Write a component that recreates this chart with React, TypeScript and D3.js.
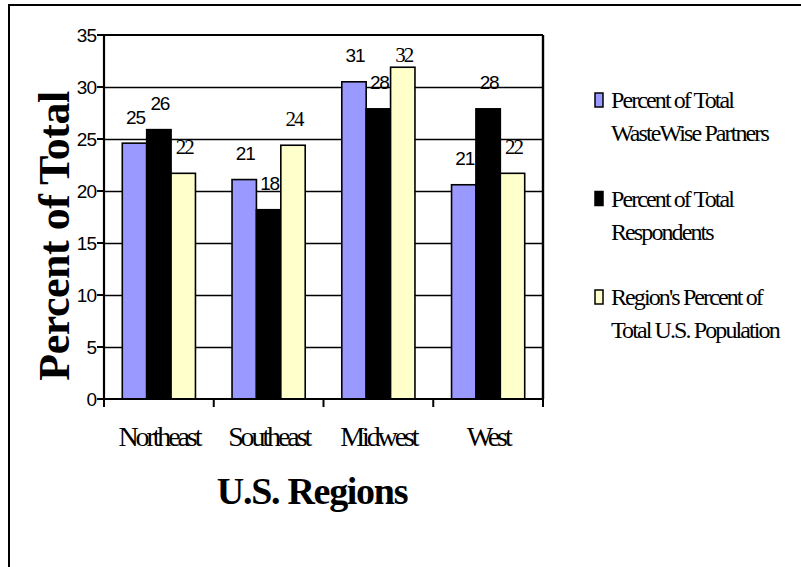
import React from "react";
import * as d3 from "d3";

const regions = ["Northeast", "Southeast", "Midwest", "West"];
const seriesNames = ["partners", "respondents", "population"];
const partnersPct = [24.6, 21.1, 30.5, 20.6];
const respondentsPct = [25.9, 18.2, 27.9, 27.9];
const populationPct = [21.7, 24.4, 31.9, 21.7];
const yTicks = [0, 5, 10, 15, 20, 25, 30, 35];
const legendLines = [
  ["Percent of Total", "WasteWise Partners"],
  ["Percent of Total", "Respondents"],
  ["Region's Percent of", "Total U.S. Population"],
];

const seriesValues = [partnersPct, respondentsPct, populationPct];
const fills = ["#9999FF", "#000000", "#FFFFCC"];
const labelFonts = [
  "'Liberation Sans', Arial, sans-serif",
  "'Liberation Sans', Arial, sans-serif",
  "'Liberation Serif', 'Times New Roman', serif",
];

const W = 801;
const H = 567;
const plot = { left: 104, right: 543, top: 35, bottom: 399 };
const serif = "'Liberation Serif', 'Times New Roman', serif";
const sans = "'Liberation Sans', Arial, sans-serif";

export default function App() {
  const y = d3.scaleLinear().domain([0, 35]).range([plot.bottom, plot.top]);
  const x = d3.scaleBand<string>().domain(regions).range([plot.left, plot.right]).paddingInner(0);
  const xs = d3
    .scaleBand<string>()
    .domain(seriesNames)
    .range([0, x.bandwidth()])
    .paddingInner(0)
    .paddingOuter(0.75);

  // value labels sit above their bar but never rise past the plot frame
  const labelBaseline = (v: number) => Math.max(y(v) - 19.5, plot.top + 27);

  return (
    <svg
      width={W}
      height={H}
      style={{ position: "absolute", left: 0, top: 0, background: "#fff" }}
    >
      <rect x={9} y={5} width={W} height={H} fill="#fff" stroke="#000" strokeWidth={2} />

      {/* gridlines */}
      {yTicks
        .filter((t) => t > 0 && t < 35)
        .map((t) => (
          <line
            key={t}
            x1={plot.left}
            x2={plot.right}
            y1={Math.round(y(t)) + 0.5}
            y2={Math.round(y(t)) + 0.5}
            stroke="#000"
            strokeWidth={1.3}
          />
        ))}

      {/* bars */}
      {regions.map((r, i) => (
        <g key={r}>
          {seriesNames.map((s, j) => {
            const v = seriesValues[j][i];
            const bx = (x(r) ?? 0) + (xs(s) ?? 0);
            return (
              <rect
                key={s}
                x={bx}
                y={y(v)}
                width={xs.bandwidth()}
                height={y(0) - y(v)}
                fill={fills[j]}
                stroke="#000"
                strokeWidth={1.6}
              />
            );
          })}
        </g>
      ))}

      {/* plot frame */}
      <line x1={plot.left} x2={plot.right} y1={plot.top} y2={plot.top} stroke="#000" strokeWidth={2} />
      <line x1={plot.right} x2={plot.right} y1={plot.top} y2={plot.bottom} stroke="#000" strokeWidth={2.4} />
      <line x1={plot.left} x2={plot.left} y1={plot.top} y2={plot.bottom + 1} stroke="#000" strokeWidth={2.2} />
      <line x1={plot.left - 1} x2={plot.right + 1} y1={plot.bottom} y2={plot.bottom} stroke="#000" strokeWidth={2.2} />

      {/* y ticks */}
      {yTicks.map((t) => (
        <g key={t}>
          <line x1={plot.left - 7} x2={plot.left} y1={y(t)} y2={y(t)} stroke="#000" strokeWidth={2} />
          <text
            x={96}
            y={y(t)}
            dy="0.36em"
            textAnchor="end"
            fontFamily={sans}
            fontSize={19}
            letterSpacing={-1}
          >
            {t}
          </text>
        </g>
      ))}

      {/* x ticks */}
      {[...regions.map((r) => x(r) ?? 0), plot.right].map((px, i) => (
        <line key={i} x1={px} x2={px} y1={plot.bottom} y2={plot.bottom + 8} stroke="#000" strokeWidth={2} />
      ))}
      {regions.map((r) => (
        <text
          key={r}
          x={(x(r) ?? 0) + x.bandwidth() / 2}
          y={446}
          textAnchor="middle"
          fontFamily={serif}
          fontSize={28}
          letterSpacing={-3.1}
        >
          {r}
        </text>
      ))}

      {/* value labels */}
      {regions.map((r, i) =>
        seriesNames.map((s, j) => {
          const v = seriesValues[j][i];
          const cx = (x(r) ?? 0) + (xs(s) ?? 0) + xs.bandwidth() / 2 + 1;
          return (
            <text
              key={r + s}
              x={cx}
              y={labelBaseline(v)}
              textAnchor="middle"
              fontFamily={labelFonts[j]}
              fontSize={j === 2 ? 21 : 19}
              letterSpacing={j === 2 ? -2 : -1.2}
            >
              {Math.round(v)}
            </text>
          );
        })
      )}

      {/* axis titles */}
      <text
        transform="translate(69,236) rotate(-90)"
        textAnchor="middle"
        fontFamily={serif}
        fontWeight="bold"
        fontSize={44}
        letterSpacing={-0.5}
      >
        Percent of Total
      </text>
      <text
        x={312}
        y={504}
        textAnchor="middle"
        fontFamily={serif}
        fontWeight="bold"
        fontSize={38}
        letterSpacing={-1.3}
      >
        U.S. Regions
      </text>

      {/* legend */}
      {legendLines.map((lines, k) => {
        const top = 100 + k * 98.5;
        return (
          <g key={k}>
            <rect x={595} y={top - 7} width={8} height={14} fill={fills[k]} stroke="#000" strokeWidth={1.5} />
            {lines.map((ln, m) => (
              <text
                key={m}
                x={611}
                y={top + m * 33}
                dy="0.35em"
                fontFamily={serif}
                fontSize={24}
                letterSpacing={-1.9}
              >
                {ln}
              </text>
            ))}
          </g>
        );
      })}
    </svg>
  );
}
